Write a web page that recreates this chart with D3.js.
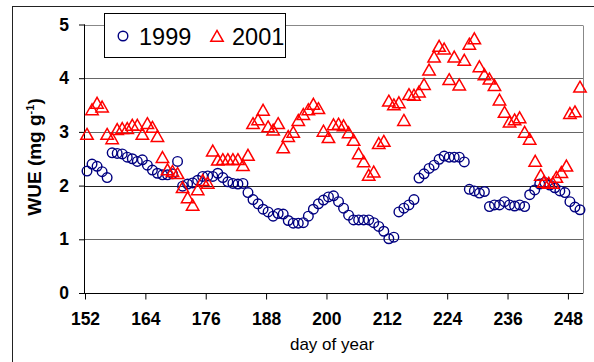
<!DOCTYPE html>
<html>
<head>
<meta charset="utf-8">
<script src="https://cdn.jsdelivr.net/npm/d3@7"></script>
<style>
  body { margin: 0; background: #fff; }
  svg { display: block; font-family: "Liberation Sans", Arial, sans-serif; }
</style>
</head>
<body>
<div id="graph"></div>
<script>
// day of year
const days1999 = [152,153,154,155,156,157,158,159,160,161,162,163,164,165,166,167,168,169,170,
  171,172,173,174,175,176,177,178,179,180,181,182,183,184,185,186,187,188,189,190,
  191,192,193,194,195,196,197,198,199,200,201,202,203,204,205,206,207,208,209,210,
  211,212,213,214,215,216,217,218,219,220,221,222,223,224,225,226,227,228,229,230,
  231,232,233,234,235,236,237,238,239,240,241,242,243,244,245,246,247,248,249,250];
// WUE (mg g-1)
const wue1999 = [2.27,2.40,2.36,2.26,2.15,2.61,2.60,2.59,2.53,2.50,2.45,2.48,2.38,2.29,2.23,2.20,2.20,2.22,2.45,
  1.99,2.03,2.05,2.10,2.17,2.18,2.17,2.23,2.15,2.07,2.04,2.03,2.04,1.87,1.74,1.66,1.56,1.51,1.43,1.48,
  1.47,1.35,1.30,1.30,1.31,1.43,1.56,1.66,1.73,1.79,1.81,1.70,1.58,1.45,1.36,1.36,1.36,1.36,1.31,1.24,
  1.15,1.01,1.04,1.51,1.58,1.64,1.74,2.14,2.22,2.32,2.38,2.49,2.55,2.53,2.53,2.53,2.44,1.93,1.90,1.86,
  1.89,1.61,1.64,1.64,1.70,1.64,1.62,1.64,1.61,1.83,1.92,2.03,2.06,2.01,1.96,1.90,1.87,1.70,1.60,1.55];

const days2001 = [152,153,154,155,156,157,158,159,160,161,162,163,164,165,166,167,168,169,170,
  171,172,173,174,175,176,177,178,179,180,181,182,183,184,185,186,187,188,189,190,
  191,192,193,194,195,196,197,198,199,200,201,202,203,204,205,206,207,208,209,210,
  211,212,213,214,215,216,217,218,219,220,221,222,223,224,225,226,227,228,229,230,
  231,232,233,234,235,236,237,238,239,240,241.1,242.2,242.8,243.8,244.6,245.3,246.3,247.3,248,249,250];
const wue2001 = [2.96,3.42,3.54,3.47,2.96,2.88,3.05,3.07,3.07,3.13,3.13,2.96,3.16,3.09,2.92,2.53,2.30,2.27,2.23,
  1.97,1.78,1.64,1.93,2.10,2.05,2.65,2.48,2.49,2.49,2.49,2.49,2.38,2.57,3.16,3.23,3.41,3.10,3.04,3.16,
  2.71,2.92,3.00,3.22,3.33,3.42,3.52,3.44,3.02,2.90,3.14,3.15,3.12,2.99,2.85,2.60,2.45,2.20,2.26,2.79,
  2.83,3.58,3.51,3.55,3.22,3.70,3.69,3.75,3.89,4.16,4.40,4.60,4.55,3.98,4.40,3.88,4.34,4.64,4.74,4.22,
  4.07,3.99,3.87,3.60,3.37,3.19,3.23,3.27,3.00,2.87,2.46,2.20,2.07,2.05,2.05,2.16,2.25,2.37,3.35,3.38,3.84];

const xTicks = [152, 164, 176, 188, 200, 212, 224, 236, 248];
const yTicks = [0, 1, 2, 3, 4, 5];
const seriesNames = ["1999", "2001"];

const W = 594, H = 362;
const margin = {top: 24.5, right: 11, bottom: 69, left: 85};

const svg = d3.select("#graph").append("svg").attr("width", W).attr("height", H);

// chart area border (runs off the right / bottom of the picture)
svg.append("rect").attr("x", 12.5).attr("y", 6.5).attr("width", 700).attr("height", 500)
  .attr("fill", "#fff").attr("stroke", "#222").attr("stroke-width", 1);

const x = d3.scaleLinear().domain([152, 251]).range([margin.left, W - margin.right]);
const y = d3.scaleLinear().domain([0, 5]).range([H - margin.bottom, margin.top]);
const noon = 0.4; // daily values sit a little past the tick

// gridlines + plot border
svg.append("g").selectAll("line").data(yTicks.slice(1)).join("line")
  .attr("x1", margin.left).attr("x2", W - margin.right)
  .attr("y1", d => Math.round(y(d)) + 0.5).attr("y2", d => Math.round(y(d)) + 0.5)
  .attr("stroke", d => d == 5 ? "#888" : d == 2 ? "#222" : "#666").attr("stroke-width", 1);
svg.append("line")
  .attr("x1", Math.round(W - margin.right) + 0.5).attr("x2", Math.round(W - margin.right) + 0.5)
  .attr("y1", Math.round(y(5)) + 0.5).attr("y2", Math.round(y(0)) + 0.5)
  .attr("stroke", "#888");

// axes
const yAxis = svg.append("g").attr("transform", `translate(${margin.left},0)`)
  .call(d3.axisLeft(y).tickValues(yTicks).tickSize(6).tickPadding(10).tickFormat(d3.format("d")));
const xAxis = svg.append("g").attr("transform", `translate(0,${Math.round(y(0)) + 0.5})`)
  .call(d3.axisBottom(x).tickValues(xTicks).tickSize(6).tickPadding(18).tickFormat(d3.format("d")));
[xAxis, yAxis].forEach(a => {
  a.select(".domain").remove();
  a.selectAll("line").attr("stroke", "#000");
  a.selectAll("text").attr("font-size", 17.5).attr("font-weight", "bold")
    .attr("font-family", "Liberation Sans, Arial, sans-serif").attr("fill", "#000");
});
xAxis.selectAll("text").attr("dy", "0.45em");
svg.append("line").attr("x1", margin.left - 0.5).attr("x2", margin.left - 0.5)
  .attr("y1", y(5)).attr("y2", y(0) + 1).attr("stroke", "#000");
svg.append("line").attr("x1", margin.left).attr("x2", W - margin.right)
  .attr("y1", Math.round(y(0)) + 0.5).attr("y2", Math.round(y(0)) + 0.5).attr("stroke", "#000");

// axis titles
svg.append("text").attr("x", (x(152) + x(251)) / 2 - 2).attr("y", 350)
  .attr("text-anchor", "middle").attr("font-size", 17).text("day of year");
const yt = svg.append("text").attr("transform", "translate(41,157) rotate(-90)")
  .attr("text-anchor", "middle").attr("font-size", 19).attr("font-weight", "bold");
yt.append("tspan").text("WUE (mg g");
yt.append("tspan").attr("font-size", 11).attr("dy", -7).text("-1");
yt.append("tspan").attr("dy", 7).text(")");

const triangle = "M0,-5.6L6.2,5.3L-6.2,5.3Z";

// 1999 - open navy circles
svg.append("g").selectAll("circle").data(d3.zip(days1999, wue1999)).join("circle")
  .attr("cx", d => x(d[0] + noon)).attr("cy", d => y(d[1])).attr("r", 4.8)
  .attr("fill", "none").attr("stroke", "#000080").attr("stroke-width", 1.4);

// 2001 - open red triangles
svg.append("g").selectAll("path").data(d3.zip(days2001, wue2001)).join("path")
  .attr("d", triangle)
  .attr("transform", d => `translate(${x(d[0] + noon)},${y(d[1])})`)
  .attr("fill", "none").attr("stroke", "#ff0000").attr("stroke-width", 1.5);

// legend
const lg = svg.append("g");
lg.append("rect").attr("x", 104.5).attr("y", 13.5).attr("width", 181).attr("height", 44)
  .attr("fill", "#fff").attr("stroke", "#000");
lg.append("circle").attr("cx", 123).attr("cy", 36).attr("r", 4.8)
  .attr("fill", "none").attr("stroke", "#000080").attr("stroke-width", 1.4);
lg.append("path").attr("d", triangle).attr("transform", "translate(217,36)")
  .attr("fill", "none").attr("stroke", "#ff0000").attr("stroke-width", 1.5);
lg.selectAll("text").data(seriesNames).join("text")
  .attr("x", (d, i) => i == 0 ? 139 : 232).attr("y", 44.5)
  .attr("font-size", 23.5).text(d => d);
</script>
</body>
</html>
